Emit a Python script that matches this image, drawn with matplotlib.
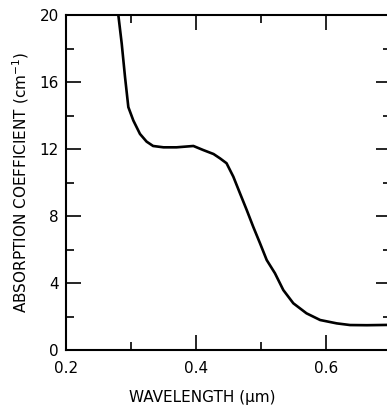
import matplotlib
matplotlib.use("Agg")
import matplotlib.pyplot as plt
from matplotlib.ticker import MultipleLocator

wavelength = [0.2805, 0.2857, 0.2908, 0.2959, 0.3036, 0.3138, 0.324, 0.334, 0.350,
              0.370, 0.396, 0.411, 0.427, 0.437, 0.447, 0.4574, 0.4677, 0.478,
              0.488, 0.4985, 0.5088, 0.5215, 0.5343, 0.5497, 0.570, 0.591, 0.6165,
              0.637, 0.663, 0.700]
absorption = [20.0, 18.3, 16.3, 14.5, 13.7, 12.9, 12.44, 12.18, 12.1,
              12.1, 12.18, 11.94, 11.7, 11.44, 11.15, 10.35, 9.35, 8.36,
              7.36, 6.37, 5.37, 4.58, 3.58, 2.79, 2.19, 1.79, 1.59,
              1.49, 1.48, 1.5]

x_major = [0.2, 0.4, 0.6]
x_labels = ["0.2", "0.4", "0.6"]
y_major = [0, 4, 8, 12, 16, 20]
y_labels = ["0", "4", "8", "12", "16", "20"]

plt.rcParams['font.family'] = ['DejaVu Sans']
fig = plt.figure(figsize=(3.87, 4.13), dpi=100)
ax = fig.add_axes([66/387, 63/413, (391-66)/387, (350-15)/413])
ax.plot(wavelength, absorption, color='black', lw=1.9, solid_joinstyle='round',
        solid_capstyle='round')
ax.set_xlim(0.2, 0.7)
ax.set_ylim(0, 20)
ax.set_xticks(x_major)
ax.set_xticklabels(x_labels)
ax.set_yticks(y_major)
ax.set_yticklabels(y_labels)
ax.xaxis.set_minor_locator(MultipleLocator(0.1))
ax.yaxis.set_minor_locator(MultipleLocator(2))
ax.tick_params(which='both', direction='in', top=True, right=True, width=1.2,
               labelsize=11, colors='black')
ax.tick_params(which='major', length=11)
ax.tick_params(which='minor', length=6)
ax.tick_params(axis='x', pad=8)
ax.tick_params(axis='y', pad=5)
for s in ax.spines.values():
    s.set_linewidth(1.5)
ax.set_xlabel("WAVELENGTH (\u03bcm)", fontsize=11, labelpad=10)
ax.xaxis.set_label_coords((202 - 66) / (391 - 66), -0.118)
ax.xaxis.label.set_verticalalignment('top')
ax.set_ylabel("ABSORPTION COEFFICIENT (cm$^{-1}$)", fontsize=11, labelpad=6)
fig.savefig("out.png", dpi=100)
